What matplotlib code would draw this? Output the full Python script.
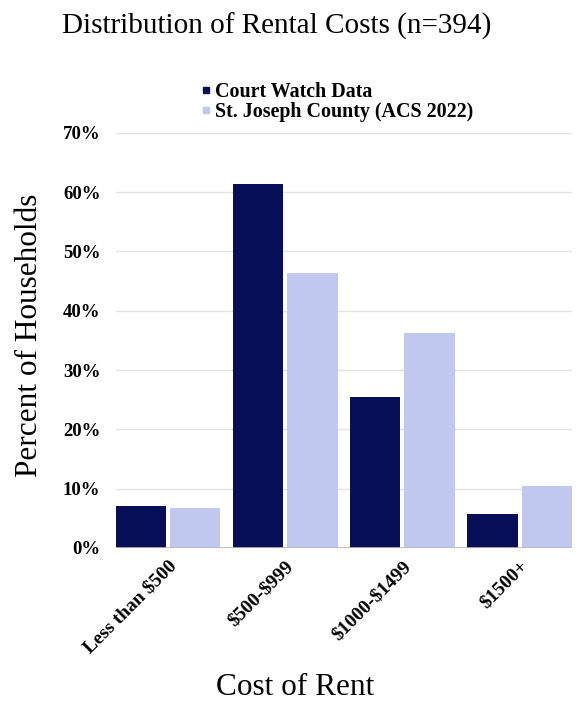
import numpy as np
import matplotlib.pyplot as plt
from matplotlib.lines import Line2D

categories = ["Less than \\$500", "\\$500-\\$999", "\\$1000-\\$1499", "\\$1500+"]
court_watch = [7.1, 61.4, 25.5, 5.8]
acs_2022 = [6.7, 46.3, 36.2, 10.5]
series_names = ["Court Watch Data", "St. Joseph County (ACS 2022)"]
yticks = [0, 10, 20, 30, 40, 50, 60, 70]

dark = "#070f57"
light = "#c0c8f0"
serif = "Liberation Serif"

fig = plt.figure(figsize=(5.76, 7.06), dpi=100)
ax = fig.add_axes([0.2009, 0.2238, 0.7921, 0.5882])

x = np.arange(len(categories))
width = 0.43
gap = 0.034
ax.bar(x - (width + gap) / 2, court_watch, width, color=dark, zorder=3)
ax.bar(x + (width + gap) / 2, acs_2022, width, color=light, zorder=3)

ax.set_xlim(-(width + gap / 2), len(categories) - 1 + width + gap / 2)
ax.set_ylim(0, 70)
ax.set_yticks(yticks)
ax.set_yticklabels([f"{t}%" for t in yticks], fontfamily=serif,
                   fontweight="bold", fontsize=13.5)
ax.set_xticks(x)
ax.set_xticklabels(categories, rotation=45, ha="right", rotation_mode="anchor",
                   fontfamily=serif, fontweight="bold", fontsize=14)
ax.tick_params(axis="both", length=0)
ax.tick_params(axis="y", pad=11)
ax.tick_params(axis="x", pad=7)

ax.grid(axis="y", color="#e4e4e8", linewidth=1, zorder=0)
for s in ax.spines.values():
    s.set_visible(False)
ax.axhline(0, color="#b8b8b8", linewidth=1.2, zorder=4)

ax.set_ylabel("Percent of Households", fontfamily=serif, fontsize=22.5)
ax.yaxis.set_label_coords(-0.158, 0.513)
ax.set_xlabel("Cost of Rent", fontfamily=serif, fontsize=22.5)
ax.xaxis.set_label_coords(0.393, -0.3)
fig.text(0.48, 0.963, "Distribution of Rental Costs (n=394)", ha="center",
         va="center", fontfamily=serif, fontsize=21)

handles = [
    Line2D([], [], marker="s", linestyle="", color=dark, markersize=4.5),
    Line2D([], [], marker="s", linestyle="", color=light, markersize=4.5),
]
fig.legend(handles, series_names, loc="upper left",
           bbox_to_anchor=(190 / 576, 1 - 72 / 706), frameon=False,
           handlelength=0.6, handletextpad=0.15, labelspacing=0.0,
           borderpad=0, prop={"family": serif, "weight": "bold", "size": 14.4})

fig.savefig("out.png", dpi=100)
